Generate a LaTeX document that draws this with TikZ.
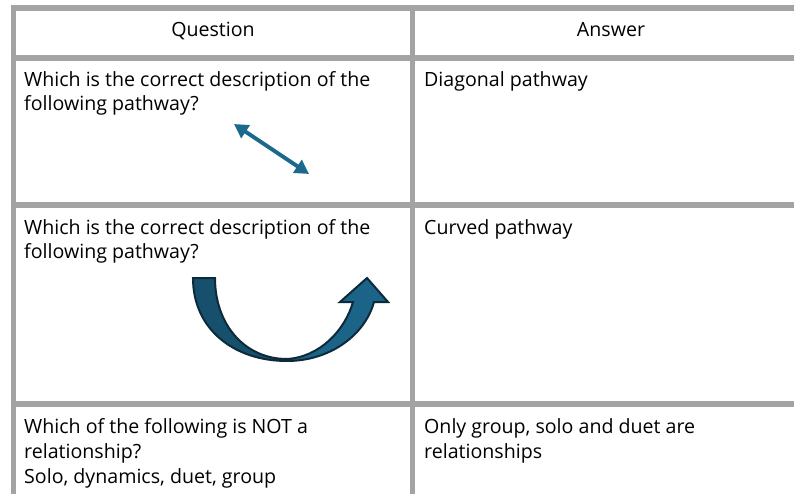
\documentclass[tikz,border=0pt]{standalone}
\usepackage{fontspec}
\setmainfont{Open Sans}
\usetikzlibrary{arrows.meta}
\definecolor{gridgray}{HTML}{A3A3A3}
\definecolor{arrowblue}{HTML}{1B6A8D}
\definecolor{banddark}{HTML}{17506D}
\definecolor{bandlight}{HTML}{1B6488}
\definecolor{bandedge}{HTML}{0D2A3A}
\tikzset{
  gridline/.style={draw=gridgray, line width=5.5pt},
  celltext/.style={anchor=base west, inner sep=0pt, font=\fontsize{19.6}{23}\selectfont, text=black},
  headtext/.style={anchor=base, inner sep=0pt, font=\fontsize{19.6}{23}\selectfont, text=black},
}
\begin{document}
\begin{tikzpicture}[x=1pt,y=-1pt]
\useasboundingbox (0,0) rectangle (794,494);
% grid
\draw[gridline] (10.75,8) -- (794,8);
\draw[gridline] (10.75,58) -- (794,58);
\draw[gridline] (10.75,205) -- (794,205);
\draw[gridline] (10.75,404) -- (794,404);
\draw[gridline] (13.5,8) -- (13.5,494);
\draw[gridline] (412.5,8) -- (412.5,494);
% header
\node[headtext] (hq) at (213,37) {Question};
\node[headtext] (ha) at (611,37) {Answer};
% row 1
\node[celltext] (q1a) at (24,87) {Which is the correct description of the};
\node[celltext] (q1b) at (24,111) {following pathway?};
\node[celltext] (a1) at (424,87) {Diagonal pathway};
% diagonal arrow
\coordinate (d1) at (234,124);
\coordinate (d2) at (309,174);
\draw[arrowblue, line width=4pt, {Triangle[length=14pt,width=15pt]}-{Triangle[length=14pt,width=15pt]}] (d1) -- (d2);
% row 2
\node[celltext] (q2a) at (24,234) {Which is the correct description of the};
\node[celltext] (q2b) at (24,258) {following pathway?};
\node[celltext] (a2) at (424,234) {Curved pathway};
% curved arrow
\fill[banddark] (193,278) -- (215,278) .. controls (215,325) and (245,359) .. (287,359)
  -- (287,361) .. controls (235,361) and (193,330) .. (193,278) -- cycle;
\fill[bandlight] (287,359) .. controls (320,357) and (345,330) .. (353,302)
  -- (340,302) -- (367,278) -- (388,302) -- (374,302)
  .. controls (365,335) and (330,361) .. (287,361) -- cycle;
\draw[bandedge, line width=2pt, line join=miter]
  (193,278) -- (215,278) .. controls (215,325) and (245,359) .. (287,359)
  .. controls (320,357) and (345,330) .. (353,302)
  -- (340,302) -- (367,278) -- (388,302) -- (374,302)
  .. controls (365,335) and (330,361) .. (287,361)
  .. controls (235,361) and (193,330) .. (193,278) -- cycle;
% row 3
\node[celltext] (q3a) at (24,433) {Which of the following is NOT a};
\node[celltext] (q3b) at (24,458) {relationship?};
\node[celltext] (q3c) at (24,483) {Solo, dynamics, duet, group};
\node[celltext] (a3a) at (424,433) {Only group, solo and duet are};
\node[celltext] (a3b) at (424,458) {relationships};
\end{tikzpicture}
\end{document}
